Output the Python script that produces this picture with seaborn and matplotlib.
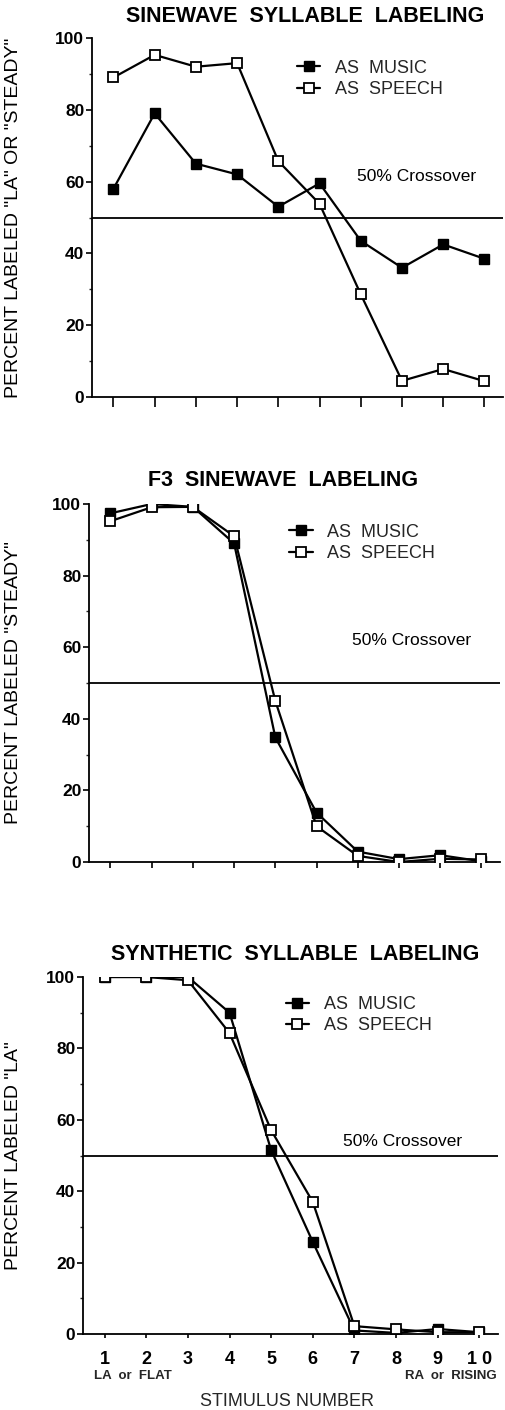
import numpy as np
import pandas as pd
import matplotlib
matplotlib.use("Agg")
import matplotlib.pyplot as plt
import seaborn as sns
from matplotlib.ticker import MultipleLocator

sns.set_theme(style="ticks")
plt.rcParams['font.family'] = ['Liberation Sans', 'DejaVu Sans']

stimulus = [1, 2, 3, 4, 5, 6, 7, 8, 9, 10]
tick_labels = ["1", "2", "3", "4", "5", "6", "7", "8", "9", "1 0"]

# Panel 1: sinewave syllable labeling
sine_music = [58, 79, 65, 62, 53, 59.5, 43.5, 36, 42.5, 38.5]
sine_speech = [89, 95.3, 92, 93, 65.7, 53.8, 28.6, 4.5, 7.8, 4.4]
# Panel 2: F3 sinewave labeling
f3_music = [97.4, 100, 99.2, 89, 34.8, 13.8, 2.9, 0.8, 1.9, 0.2]
f3_speech = [95.2, 99.1, 99.2, 91, 45, 10, 1.7, 0.0, 0.9, 0.7]
# Panel 3: synthetic syllable labeling
syn_music = [100, 100, 100, 90, 51.5, 25.8, 1.0, 0.3, 1.4, 0.5]
syn_speech = [100, 100, 99.1, 84.3, 57.1, 37, 2.2, 1.3, 0.5, 0.5]

titles = ["SINEWAVE  SYLLABLE  LABELING", "F3  SINEWAVE  LABELING",
          "SYNTHETIC  SYLLABLE  LABELING"]
ylabels = ['PERCENT LABELED "LA" OR "STEADY"', 'PERCENT LABELED "STEADY"',
           'PERCENT LABELED "LA"']
legend_labels = ["AS  MUSIC", "AS  SPEECH"]
crossover_label = "50% Crossover"
xlabel = "STIMULUS NUMBER"
end_labels = ["LA  or  FLAT", "RA  or  RISING"]

W, H = 505, 1410
fig = plt.figure(figsize=(W / 100, H / 100), dpi=100)

def fx(px):
    return px / W

def fy(py):
    return 1 - py / H

# axes boxes in pixels: left, right, top, bottom
boxes = [(92, 503, 38, 397), (89, 500, 504, 862), (83, 498, 977, 1334)]
title_pos = [(305, 17), (283, 480), (295, 955)]
ylabel_x = [22, 22, 22]
legend_anchor = [(5.45, 88.6), (5.34, 89.1), (5.35, 89.3)]
cross_pos = [(6.9, 61.5), (6.87, 62), (6.72, 54)]
data = [(sine_music, sine_speech), (f3_music, f3_speech), (syn_music, syn_speech)]
xtick_len = [7, 4.5, 3]

for i in range(3):
    l, r, t, b = boxes[i]
    ax = fig.add_axes([fx(l), fy(b), fx(r) - fx(l), fy(t) - fy(b)])
    music, speech = data[i]
    df = pd.DataFrame({"stim": stimulus, "music": music, "speech": speech})
    ax.axhline(50, color="black", lw=1.3, zorder=1)
    sns.lineplot(data=df, x="stim", y="music", ax=ax, color="black", lw=1.6,
                 marker="s", markersize=6.5, markerfacecolor="black",
                 markeredgecolor="black", markeredgewidth=1.0, zorder=3,
                 label=legend_labels[0])
    sns.lineplot(data=df, x="stim", y="speech", ax=ax, color="black", lw=1.6,
                 marker="s", markersize=6.5, markerfacecolor="white",
                 markeredgecolor="black", markeredgewidth=1.3, zorder=4,
                 label=legend_labels[1])
    ax.set_xlim(0.48, 10.45)
    ax.set_ylim(0, 100)
    ax.set_yticks([0, 20, 40, 60, 80, 100])
    ax.yaxis.set_minor_locator(MultipleLocator(10))
    ax.set_xticks(stimulus)
    sns.despine(ax=ax)
    for s in ["left", "bottom"]:
        ax.spines[s].set_linewidth(1.3)
        ax.spines[s].set_color("black")
    ax.tick_params(axis="y", which="major", direction="out", length=4.5, width=1.2,
                   pad=1, labelsize=12.5, colors="black")
    ax.tick_params(axis="y", which="minor", direction="out", length=2.5, width=1.0)
    ax.tick_params(axis="x", which="major", direction="out", length=xtick_len[i],
                   width=1.2, colors="black")
    for lab in ax.get_yticklabels():
        lab.set_fontweight("bold")
    ax.set_ylabel(ylabels[i], fontsize=14, color="black")
    ax.yaxis.set_label_coords((ylabel_x[i] - l) / (r - l), 0.5)
    ax.set_xlabel("")
    if i < 2:
        ax.set_xticklabels([])
    else:
        ax.set_xticklabels(tick_labels, fontsize=13, fontweight="bold")
        ax.tick_params(axis="x", pad=9)
    ax.text(cross_pos[i][0], cross_pos[i][1], crossover_label, fontsize=12.5,
            ha="left", va="center", color="black")
    handles, labs = ax.get_legend_handles_labels()
    leg = ax.legend(handles[:2], labs[:2], loc="center left",
                    bbox_to_anchor=legend_anchor[i],
                    bbox_transform=ax.transData, frameon=False, fontsize=13,
                    handlelength=1.3, handletextpad=0.8, labelspacing=0.25,
                    borderpad=0, borderaxespad=0)
    fig.text(fx(title_pos[i][0]), fy(title_pos[i][1]), titles[i], fontsize=15.5,
             fontweight="bold", ha="center", va="center", color="black")

fig.text(fx(133), fy(1376), end_labels[0], fontsize=9.5, fontweight="bold",
         ha="center", va="center")
fig.text(fx(451), fy(1376), end_labels[1], fontsize=9.5, fontweight="bold",
         ha="center", va="center")
fig.text(fx(287), fy(1401), xlabel, fontsize=13, ha="center", va="center")

fig.savefig("out.png", dpi=100, facecolor="white")
